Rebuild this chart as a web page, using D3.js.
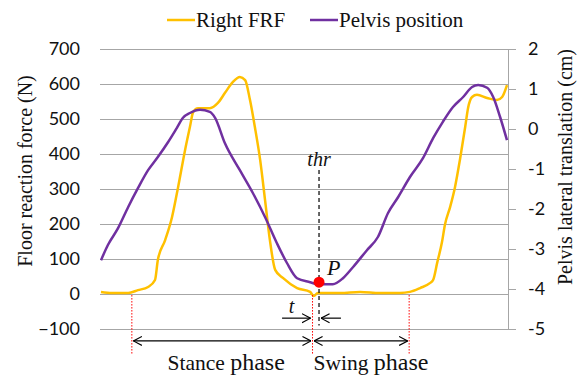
<!DOCTYPE html>
<html>
<head>
<meta charset="utf-8">
<script src="https://cdn.jsdelivr.net/npm/d3@7"></script>
<style>
  body { margin: 0; background: #fff; }
  svg { display: block; }
  .tick text { font-family: Lato, "Liberation Sans", sans-serif; font-size: 18px; fill: #111; }
  .serif { font-family: "Liberation Serif", "DejaVu Serif", serif; fill: #111; }
</style>
</head>
<body>
<div id="chart"></div>
<script>
// frame index of each sample (0..100), force in N
var frfFrame = [0, 2.7, 6.7, 9.1, 11.6, 13.3, 14.0, 15.8, 17.5, 19.0, 20.7, 21.9, 22.7, 23.9, 26.8, 28.8,
  30.5, 32.5, 34.2, 35.5, 36.7, 37.9, 39.2, 40.4, 41.6, 42.9, 44.8, 48.3, 51.5, 52.4, 53.4,
  58.9, 63.8, 68.7, 73.6, 76.1, 78.6, 81.0, 81.8, 82.8, 84.0, 84.7, 86.0, 87.2, 88.4, 89.7,
  90.4, 91.4, 92.6, 95.1, 97.5, 98.8, 100];
var frfValue = [6, 3, 3, 11, 20, 40, 97, 154, 220, 306, 411, 477, 520, 531, 531, 546,
  574, 606, 620, 611, 554, 477, 383, 269, 154, 69, 46, 17, 6, -6, 3,
  3, 6, 3, 3, 6, 17, 31, 40, 89, 149, 197, 249, 306, 383, 477,
  531, 563, 569, 560, 554, 563, 597];

// pelvis lateral translation in cm
var pelvisFrame = [0, 1.7, 4.2, 6.7, 9.1, 11.6, 14.0, 16.5, 18.7, 20.2, 21.9, 24.4, 26.8, 28.1,
  30.5, 34.2, 37.4, 40.4, 43.3, 45.8, 48.3, 51.5, 53.4, 57.1, 59.6, 62.1, 65.5, 68.2,
  70.7, 73.2, 76.1, 79.3, 81.8, 84.2, 86.7, 89.2, 91.4, 92.9, 95.1, 96.6, 98.3, 100];
var pelvisValue = [-3.28, -2.9, -2.48, -1.95, -1.48, -1.03, -0.70, -0.33, 0.03, 0.28, 0.40, 0.48, 0.43, 0.28,
  -0.35, -1.03, -1.6, -2.2, -2.85, -3.35, -3.73, -3.83, -3.88, -3.88, -3.73, -3.45, -3.03, -2.7,
  -2.1, -1.7, -1.2, -0.73, -0.23, 0.18, 0.55, 0.8, 1.05, 1.1, 1.03, 0.8, 0.3, -0.28];

var leftTicks = [-100, 0, 100, 200, 300, 400, 500, 600, 700];
var rightTicks = [-5, -4, -3, -2, -1, 0, 1, 2];

// gait events (frames) and the point P
var stanceStart = 7.6;
var swingStart = 52.1;
var swingEnd = 75.9;
var thrFrame = 53.7;
var pointP = {frame: 53.7, value: -3.83};

var margin = {top: 49, right: 71, bottom: 47, left: 100};
var W = 579, H = 376;
var width = W - margin.left - margin.right;
var height = H - margin.top - margin.bottom;

var gold = "#FFC000", purple = "#7030A0", grid = "#a6a6a6";

var svg = d3.select("#chart").append("svg")
    .attr("width", W)
    .attr("height", H);

var defs = svg.append("defs");
defs.append("marker")
    .attr("id", "chev")
    .attr("viewBox", "0 -6 10 12")
    .attr("refX", 9.5).attr("refY", 0)
    .attr("markerUnits", "userSpaceOnUse")
    .attr("markerWidth", 9).attr("markerHeight", 11)
    .attr("orient", "auto-start-reverse")
    .append("path")
    .attr("d", "M0,-5L9.5,0L0,5")
    .attr("fill", "none")
    .attr("stroke", "#000")
    .attr("stroke-width", 1.3);

var g = svg.append("g")
    .attr("transform", "translate(" + margin.left + "," + margin.top + ")");

var x = d3.scaleLinear().domain([0, 100]).range([1, width - 1]);
var yL = d3.scaleLinear().domain([-100, 700]).range([height, 0]);
var yR = d3.scaleLinear().domain([-5, 2]).range([height, 0]);

// left axis + gridlines
var ga = g.append("g")
    .call(d3.axisLeft(yL).tickValues(leftTicks).tickSizeInner(-width).tickSizeOuter(0).tickPadding(20));
ga.select(".domain").remove();
ga.selectAll(".tick line").attr("stroke", grid).attr("stroke-width", 1);

// right axis
var gr = g.append("g")
    .attr("transform", "translate(" + width + ",0)")
    .call(d3.axisRight(yR).tickValues(rightTicks).tickSizeInner(8).tickSizeOuter(0).tickPadding(12)
      .tickFormat(d3.format("d")));
gr.select(".domain").attr("stroke", grid);
gr.selectAll(".tick line").attr("stroke", grid);
gr.selectAll(".tick text").text(function(d) { return d < 0 ? "-" + Math.abs(d) : d; });

// axis titles
svg.append("text").attr("class", "serif")
    .attr("transform", "translate(25,171) rotate(-90)")
    .attr("text-anchor", "middle").attr("dominant-baseline", "central")
    .style("font-size", "20px")
    .text("Floor reaction force (N)");
svg.append("text").attr("class", "serif")
    .attr("transform", "translate(565,167) rotate(-90)")
    .attr("text-anchor", "middle").attr("dominant-baseline", "central")
    .style("font-size", "20px")
    .text("Pelvis lateral translation (cm)");

// curves
var frfLine = d3.line()
    .curve(d3.curveMonotoneX)
    .x(function(d, i) { return x(frfFrame[i]); })
    .y(function(d) { return yL(d); });
var pelvisLine = d3.line()
    .curve(d3.curveMonotoneX)
    .x(function(d, i) { return x(pelvisFrame[i]); })
    .y(function(d) { return yR(d); });

g.append("path").datum(frfValue)
    .attr("d", frfLine)
    .attr("fill", "none").attr("stroke", gold).attr("stroke-width", 2.5)
    .attr("stroke-linejoin", "round");
g.append("path").datum(pelvisValue)
    .attr("d", pelvisLine)
    .attr("fill", "none").attr("stroke", purple).attr("stroke-width", 2.5)
    .attr("stroke-linejoin", "round");

// red dotted event lines
[stanceStart, swingStart, swingEnd].forEach(function(f) {
  g.append("line")
    .attr("x1", x(f)).attr("x2", x(f))
    .attr("y1", yL(-3)).attr("y2", yL(-174))
    .attr("stroke", "#ff0000").attr("stroke-width", 1)
    .attr("stroke-dasharray", "1.5,1.5");
});

// threshold dashed line
g.append("line")
    .attr("x1", x(thrFrame)).attr("x2", x(thrFrame))
    .attr("y1", yL(354)).attr("y2", yL(-90))
    .attr("stroke", "#000").attr("stroke-width", 1.2)
    .attr("stroke-dasharray", "4,3");
g.append("text").attr("class", "serif")
    .attr("x", x(thrFrame)).attr("y", yL(366))
    .attr("text-anchor", "middle")
    .style("font-size", "20px").style("font-style", "italic")
    .text("thr");

// point P
g.append("circle")
    .attr("cx", x(pointP.frame)).attr("cy", yR(pointP.value))
    .attr("r", 5.5).attr("fill", "#ff0000");
g.append("text").attr("class", "serif")
    .attr("x", x(pointP.frame) + 8).attr("y", yR(pointP.value) - 7)
    .style("font-size", "22px").style("font-style", "italic")
    .text("P");

// t arrows
var tY = yL(-69);
g.append("line")
    .attr("x1", x(44.6)).attr("x2", x(swingStart) - 2)
    .attr("y1", tY).attr("y2", tY)
    .attr("stroke", "#000").attr("stroke-width", 1.2)
    .attr("marker-end", "url(#chev)");
g.append("line")
    .attr("x1", x(59.1)).attr("x2", x(thrFrame) + 2)
    .attr("y1", tY).attr("y2", tY)
    .attr("stroke", "#000").attr("stroke-width", 1.2)
    .attr("marker-end", "url(#chev)");
g.append("text").attr("class", "serif")
    .attr("x", x(46.9)).attr("y", yL(-55))
    .attr("text-anchor", "middle")
    .style("font-size", "20px").style("font-style", "italic")
    .text("t");

// phase arrows
var pY = yL(-134);
[[stanceStart, swingStart], [swingStart, swingEnd]].forEach(function(p) {
  g.append("line")
    .attr("x1", x(p[0]) + 1.5).attr("x2", x(p[1]) - 1.5)
    .attr("y1", pY).attr("y2", pY)
    .attr("stroke", "#000").attr("stroke-width", 1.2)
    .attr("marker-start", "url(#chev)")
    .attr("marker-end", "url(#chev)");
});

var st = g.append("text").attr("class", "serif")
    .attr("x", x((stanceStart + swingStart) / 2) + 4).attr("y", yL(-218))
    .attr("text-anchor", "middle");
st.append("tspan").style("font-size", "21.5px").text("Stance ");
st.append("tspan").style("font-size", "24px").text("phase");
var sw = g.append("text").attr("class", "serif")
    .attr("x", x(swingStart) + 1).attr("y", yL(-218))
    .attr("text-anchor", "start");
sw.append("tspan").style("font-size", "21.5px").text("Swing ");
sw.append("tspan").style("font-size", "24px").text("phase");

// legend
var legend = [
  {name: "Right FRF", color: gold, x0: 167},
  {name: "Pelvis position", color: purple, x0: 310}
];
legend.forEach(function(d) {
  svg.append("line")
    .attr("x1", d.x0).attr("x2", d.x0 + 28)
    .attr("y1", 20).attr("y2", 20)
    .attr("stroke", d.color).attr("stroke-width", 2.5);
  svg.append("text").attr("class", "serif")
    .attr("x", d.x0 + 29).attr("y", 27)
    .style("font-size", "21px")
    .text(d.name);
});
</script>
</body>
</html>
